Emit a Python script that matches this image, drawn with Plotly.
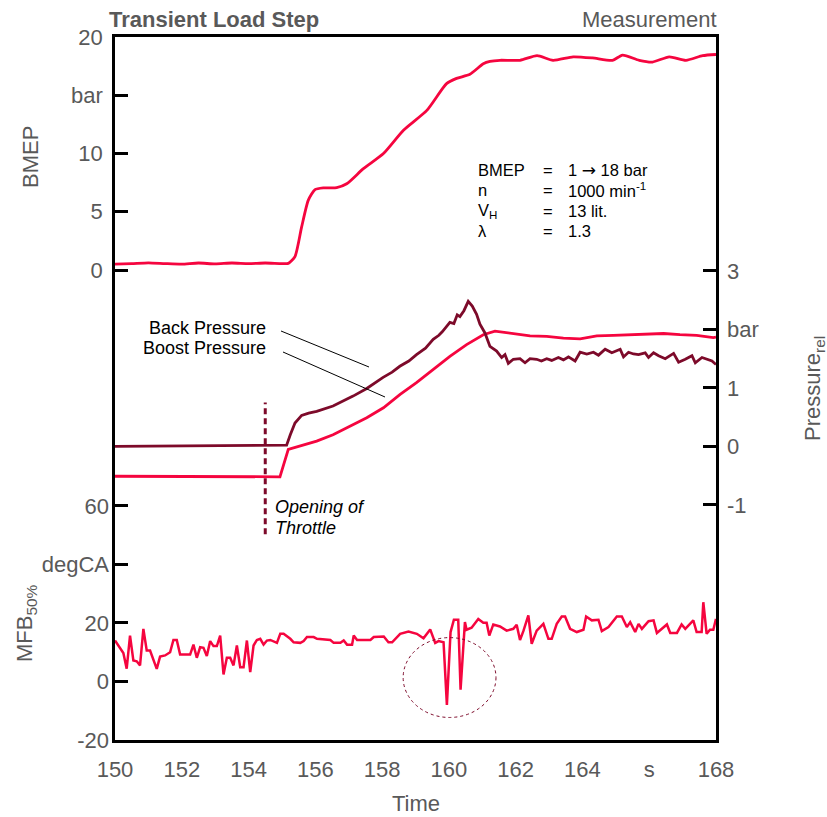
import plotly.graph_objects as go

# ---------------- data ----------------
bmep_t = [150, 150.5, 151, 151.5, 152, 152.5, 153, 153.5, 154, 154.5,
          155, 155.19, 155.39, 155.59, 155.79, 155.99, 156.24, 156.64, 156.94, 157.44,
          158.04, 158.64, 159.34, 159.93, 160.23, 160.63, 161.03, 161.23, 161.53, 162.13,
          162.64, 163.12, 163.72, 164.3, 164.9, 165.2, 165.7, 166.1, 166.6, 167.1,
          167.6, 168]
bmep_v = [0.5, 0.55, 0.62, 0.55, 0.5, 0.6, 0.52, 0.6, 0.55, 0.6,
          0.55, 0.57, 1.15, 3.7, 6.0, 6.9, 7.05, 7.07, 7.4, 8.7,
          10.0, 12.0, 13.7, 16.0, 16.45, 16.8, 17.7, 17.9, 18.0, 18.0,
          18.4, 18.0, 18.3, 18.2, 18.0, 18.45, 18.0, 17.85, 18.3, 18.0,
          18.4, 18.5]

back_t = [150, 155.14, 155.25, 155.39, 155.59, 155.8, 156.04, 156.53, 157.13, 157.54,
          158.03, 158.3, 158.53, 158.7, 158.8, 159.03, 159.2, 159.3, 159.53, 159.7,
          159.8, 160.03, 160.15, 160.25, 160.33, 160.45, 160.58, 160.7, 160.83, 160.93,
          161.08, 161.23, 161.43, 161.58, 161.68, 161.78, 161.93, 162.13, 162.28, 162.43,
          162.63, 162.77, 162.93, 163.08, 163.28, 163.43, 163.58, 163.78, 163.93, 164.13,
          164.33, 164.48, 164.68, 164.88, 165.13, 165.23, 165.38, 165.53, 165.68, 165.88,
          165.98, 166.13, 166.28, 166.48, 166.73, 166.88, 167.08, 167.28, 167.38, 167.58,
          167.88, 168]
back_v = [0.0, 0.02, 0.2, 0.40, 0.53, 0.57, 0.60, 0.69, 0.86, 0.99,
          1.18, 1.27, 1.37, 1.42, 1.46, 1.57, 1.64, 1.68, 1.83, 1.9,
          1.96, 2.12, 2.1, 2.25, 2.22, 2.32, 2.48, 2.4, 2.26, 2.09,
          1.94, 1.71, 1.63, 1.52, 1.57, 1.42, 1.49, 1.50, 1.43, 1.50,
          1.49, 1.46, 1.50, 1.47, 1.52, 1.48, 1.53, 1.46, 1.61, 1.58,
          1.61, 1.56, 1.66, 1.60, 1.66, 1.53, 1.61, 1.58, 1.57, 1.60,
          1.52, 1.60, 1.55, 1.50, 1.59, 1.44, 1.49, 1.55, 1.43, 1.52,
          1.46, 1.40]

boost_t = [150, 154.94, 155.19, 155.54, 156.04, 156.53, 157.04, 157.54, 158.04, 158.54,
           159.03, 159.53, 160.03, 160.53, 161.03, 161.38, 161.73, 161.93, 162.43, 162.93,
           163.43, 163.93, 164.43, 164.93, 165.43, 165.93, 166.43, 166.92, 167.42, 167.92,
           168]
boost_v = [-0.51, -0.52, -0.05, 0.01, 0.09, 0.20, 0.35, 0.49, 0.66, 0.89,
           1.09, 1.32, 1.54, 1.74, 1.91, 1.97, 1.94, 1.93, 1.89, 1.88,
           1.85, 1.84, 1.89, 1.90, 1.91, 1.93, 1.93, 1.91, 1.90, 1.86,
           1.87]

mfb_t = [150, 150.25, 150.35, 150.45, 150.55, 150.65, 150.75, 150.85, 150.95, 151.05,
         151.25, 151.35, 151.5, 151.65, 151.75, 151.85, 151.95, 152.25, 152.35, 152.45,
         152.55, 152.65, 152.75, 152.85, 152.95, 153.05, 153.15, 153.25, 153.35, 153.45,
         153.55, 153.65, 153.75, 153.85, 153.95, 154.05, 154.15, 154.25, 154.35, 154.45,
         154.55, 154.65, 154.85, 154.95, 155.05, 155.25, 155.35, 155.55, 155.65, 155.75,
         155.95, 156.05, 156.45, 156.55, 156.75, 156.85, 156.95, 157.1, 157.15, 157.25,
         157.65, 157.75, 158.05, 158.19, 158.3, 158.54, 158.79, 159.04, 159.24, 159.44,
         159.59, 159.69, 159.84, 159.94, 160.05, 160.15, 160.28, 160.35, 160.48, 160.53,
         160.68, 160.88, 161.03, 161.13, 161.21, 161.33, 161.53, 161.73, 161.93, 162.03,
         162.13, 162.23, 162.38, 162.48, 162.63, 162.83, 162.98, 163.08, 163.23, 163.38,
         163.48, 163.63, 163.83, 164.03, 164.11, 164.28, 164.48, 164.58, 164.78, 165.03,
         165.18, 165.33, 165.43, 165.58, 165.68, 165.78, 165.98, 166.13, 166.23, 166.53,
         166.63, 166.83, 166.97, 167.08, 167.32, 167.42, 167.57, 167.62, 167.72, 167.82,
         167.92, 168]
mfb_v = [14, 9.7, 4.4, 15.7, 7.2, 6.9, 5.5, 18, 10.6, 10.6,
         4.3, 8.5, 8.9, 10, 14.2, 14.2, 9.2, 9.2, 12.6, 8.1,
         11.7, 11.5, 8.7, 13.8, 12.1, 12.1, 15.7, 2.4, 8.1, 8.1,
         5.5, 12.3, 4.9, 4.9, 14, 3.2, 12.3, 14.2, 14.6, 12.6,
         14, 14.2, 13.2, 16.3, 16.3, 14.6, 13.4, 13.2, 13.8, 15.2,
         15.2, 14.6, 14.2, 13.2, 13.2, 14, 12.6, 12.6, 15.7, 14.2,
         14.2, 15.2, 15.4, 13.4, 13.4, 16.3, 17.1, 16.3, 14.8, 17.8,
         13.2, 13.8, 13.4, -8.0, 16.9, 21.1, 21.1, -2.8, 20.3, 17.7,
         18.4, 21.4, 20.1, 20.1, 15.7, 19.5, 18.8, 17.4, 18, 19.4,
         14.2, 17.2, 22.6, 12.9, 17.4, 19.7, 14.6, 14.6, 19.7, 22.2,
         22.2, 18, 16.9, 17.7, 22.2, 20.9, 21.1, 17.2, 18.6, 22.2,
         22.2, 18.6, 20.3, 16.9, 19.7, 18, 20.6, 20.9, 16.6, 19.5,
         16.6, 16.6, 19.5, 18, 20.9, 16.9, 16.9, 27.1, 16.3, 17.7,
         17.7, 21.4]

x_ticks = [150, 152, 154, 156, 158, 160, 162, 164, 166, 168]
x_ticktext = ["150", "152", "154", "156", "158", "160", "162", "164", "s", "168"]
bmep_ticks = [0, 5, 10, 15, 20]
bmep_ticktext = ["0", "5", "10", "bar", "20"]
mfb_ticks = [-20, 0, 20, 40, 60]
mfb_ticktext = ["-20", "0", "20", "degCA", "60"]
p_ticks = [-1, 0, 1, 2, 3]
p_ticktext = ["-1", "0", "1", "bar", "3"]

throttle_time = 154.5
throttle_span = [-1.5, 0.75]          # in pressure units
circle_x = [158.63, 161.41]
circle_y = [-12.3, 15.0]              # in MFB units

# ---------------- style ----------------
RED = "#F5053F"
MAROON = "#7D0A2A"
GRAY = "#595959"
FONT = "Liberation Sans, Arial, sans-serif"
L, R, T, B = 115, 111, 37, 77
W, H = 827, 817
PW, PH = W - L - R, H - T - B


def pp(xpx, ypx):
    return dict(xref="paper", yref="paper", x=(xpx - L) / PW, y=(H - B - ypx) / PH)


fig = go.Figure()
fig.add_trace(go.Scatter(x=bmep_t, y=bmep_v, mode="lines", yaxis="y",
                         line=dict(color=RED, width=2.8, shape="spline", smoothing=0.6)))
fig.add_trace(go.Scatter(x=boost_t, y=boost_v, mode="lines", yaxis="y3",
                         line=dict(color=RED, width=2.8)))
fig.add_trace(go.Scatter(x=back_t, y=back_v, mode="lines", yaxis="y3",
                         line=dict(color=MAROON, width=2.8)))
fig.add_trace(go.Scatter(x=mfb_t, y=mfb_v, mode="lines", yaxis="y2",
                         line=dict(color=RED, width=2.5)))

tickfont = dict(family=FONT, size=22, color=GRAY)
common_y = dict(showgrid=False, zeroline=False, ticks="inside", ticklen=13, tickwidth=2.5,
                tickcolor="black", tickfont=tickfont, fixedrange=True)

fig.update_layout(
    width=W, height=H,
    margin=dict(l=L, r=R, t=T, b=B),
    paper_bgcolor="white", plot_bgcolor="white",
    showlegend=False,
    xaxis=dict(range=[150, 168], tickvals=x_ticks, ticktext=x_ticktext, ticks="",
               showgrid=False, zeroline=False, showline=True, mirror=True,
               linecolor="black", linewidth=2.5, tickfont=tickfont, ticklabelstandoff=8),
    yaxis=dict(range=[-40.34, 20], tickvals=bmep_ticks, ticktext=bmep_ticktext,
               showline=True, mirror=True, linecolor="black", linewidth=2.5,
               ticklabelstandoff=5, **common_y),
    yaxis2=dict(range=[-20, 220.3], tickvals=mfb_ticks, ticktext=mfb_ticktext,
                overlaying="y", side="left", showline=False, ticklabelstandoff=5, **common_y),
    yaxis3=dict(range=[-5.02, 7.0], tickvals=p_ticks, ticktext=p_ticktext,
                overlaying="y", side="right", showline=False, ticklabelstandoff=10, **common_y),
)

# vertical dashed throttle line
fig.add_shape(type="line", xref="x", yref="y3", x0=throttle_time, x1=throttle_time,
              y0=throttle_span[0], y1=throttle_span[1],
              line=dict(color=MAROON, width=3, dash="6px,4px"))
# ellipse
fig.add_shape(type="circle", xref="x", yref="y2", x0=circle_x[0], x1=circle_x[1],
              y0=circle_y[0], y1=circle_y[1],
              line=dict(color=MAROON, width=1, dash="dot"))

# leader lines
for (xa, ya, xb, yb) in [(281, 331, 369, 367), (283, 352, 385, 397)]:
    a = pp(xa, ya)
    b = pp(xb, yb)
    fig.add_shape(type="line", xref="paper", yref="paper", x0=a["x"], y0=a["y"],
                  x1=b["x"], y1=b["y"], line=dict(color="black", width=1))

ann = []
ann.append(dict(text="<b>Transient Load Step</b>", xanchor="left", yanchor="middle",
                font=dict(family=FONT, size=22, color=GRAY), **pp(107, 19)))
ann.append(dict(text="Measurement", xanchor="right", yanchor="middle",
                font=dict(family=FONT, size=22, color=GRAY), **pp(719, 19)))
ann.append(dict(text="Time", xanchor="center", yanchor="middle",
                font=dict(family=FONT, size=22, color=GRAY), **pp(415.5, 803)))
ann.append(dict(text="BMEP", textangle=-90, xanchor="center", yanchor="middle",
                font=dict(family=FONT, size=22, color=GRAY), **pp(30, 157)))
ann.append(dict(text="MFB<sub>50%</sub>", textangle=-90, xanchor="center", yanchor="middle",
                font=dict(family=FONT, size=22, color=GRAY), **pp(26, 623)))
ann.append(dict(text="Pressure<sub>rel</sub>", textangle=-90, xanchor="center", yanchor="middle",
                font=dict(family=FONT, size=22, color=GRAY), **pp(814, 389)))

ann.append(dict(text="Back Pressure", xanchor="right", yanchor="middle",
                font=dict(family=FONT, size=18, color="black"), **pp(268, 328)))
ann.append(dict(text="Boost Pressure", xanchor="right", yanchor="middle",
                font=dict(family=FONT, size=18, color="black"), **pp(268, 348)))
ann.append(dict(text="<i>Opening of</i>", xanchor="left", yanchor="middle",
                font=dict(family=FONT, size=18, color="black"), **pp(273, 507)))
ann.append(dict(text="<i>Throttle</i>", xanchor="left", yanchor="middle",
                font=dict(family=FONT, size=18, color="black"), **pp(273, 528)))

arrow = "<span style=\"font-family:'DejaVu Sans';font-size:17px\">\u2192</span>"
block = [("BMEP", "1 " + arrow + " 18 bar", 170), ("n", "1000 min<sup>-1</sup>", 190),
         ("V<sub>H</sub>", "13 lit.", 211), ("\u03bb", "1.3", 231)]
for lab, val, ypx in block:
    f = dict(family=FONT, size=16.5, color="black")
    ann.append(dict(text=lab, xanchor="left", yanchor="middle", font=f, **pp(476, ypx)))
    ann.append(dict(text="=", xanchor="left", yanchor="middle", font=f, **pp(541, ypx)))
    ann.append(dict(text=val, xanchor="left", yanchor="middle", font=f, **pp(566, ypx)))

for a in ann:
    a["showarrow"] = False
fig.update_layout(annotations=ann)

fig.write_html("out.html")
